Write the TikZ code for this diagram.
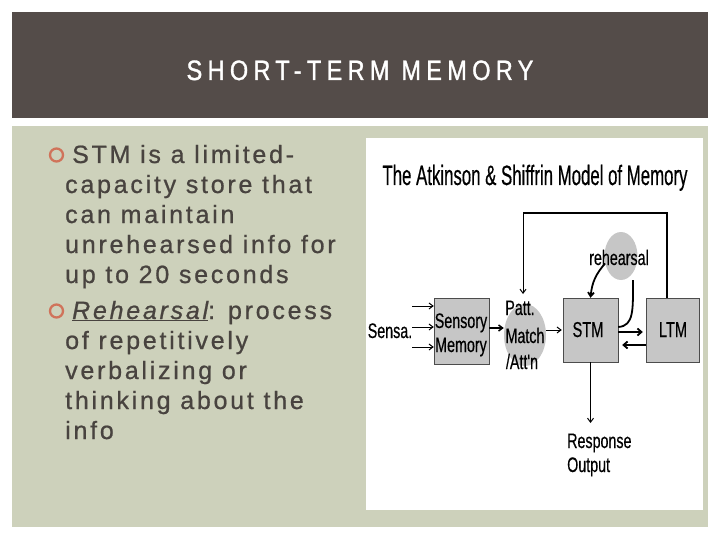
\documentclass[tikz,border=0pt]{standalone}
\usepackage{fontspec}
\setmainfont{Liberation Sans}
\newfontfamily\headf[LetterSpace=19,FakeStretch=0.84,FakeBold=1.2]{Liberation Sans}
\newfontfamily\bodyf[LetterSpace=11,FakeBold=0.8]{Liberation Sans}
\newfontfamily\dtitlef[FakeStretch=0.6,FakeBold=0.4]{Liberation Sans}
\newfontfamily\dlabf[FakeStretch=0.68,FakeBold=0.4]{Liberation Sans}
\usetikzlibrary{arrows.meta,shapes.geometric}
\definecolor{header}{HTML}{544C49}
\definecolor{panel}{HTML}{CDD1BB}
\definecolor{bodytext}{HTML}{48433F}
\definecolor{bullet}{HTML}{D0735A}
\definecolor{boxgray}{HTML}{C6C6C6}
\begin{document}
\begin{tikzpicture}[x=1pt,y=-1pt,
  body/.style={anchor=base west, inner sep=0, font=\bodyf\fontsize{25}{27}\selectfont, text=bodytext},
  bul/.style={draw=bullet, line width=2.3pt, circle, minimum size=13pt, inner sep=0},
  dlab/.style={inner sep=0, font=\dlabf\fontsize{21}{23}\selectfont, anchor=base},
  dbox/.style={fill=boxgray, draw=gray!60!black, line width=0.4pt, inner sep=0},
  gell/.style={fill=boxgray, ellipse, inner sep=0},
  arr/.style={-{Straight Barb[length=4pt,width=6pt]}, line width=1pt},
  tarr/.style={-{Straight Barb[length=4pt,width=7pt]}, line width=1.8pt}]
\useasboundingbox (0,0) rectangle (720,540);
\fill[white] (0,0) rectangle (720,540);
\fill[header] (12,12) rectangle (708,118);
\node[text=white, font=\headf\fontsize{28}{30}\selectfont, inner sep=0, anchor=base] (title) at (360,80) {SHORT-TERM MEMORY};
\fill[panel] (12,126) rectangle (708,527);
\fill[white] (366,138) rectangle (703,510);
% left text
\node[bul] (b1) at (56.5,155) {};
\node[body] (t1) at (72,163) {STM is a limited-};
\node[body] (t2) at (65,193) {capacity store that};
\node[body] (t3) at (65,223) {can maintain};
\node[body] (t4) at (65,253) {unrehearsed info for};
\node[body] (t5) at (65,283) {up to 20 seconds};
\node[bul] (b2) at (56.5,311) {};
\node[body] (u1) at (72,319) {\underline{\itshape Rehearsal}: process};
\node[body] (u2) at (65,349) {of repetitively};
\node[body] (u3) at (65,379) {verbalizing or};
\node[body] (u4) at (65,409) {thinking about the};
\node[body] (u5) at (65,439) {info};
% diagram
\node[inner sep=0, font=\dtitlef\fontsize{28}{30}\selectfont, anchor=base] (dtitle) at (535,185) {The Atkinson \& Shiffrin Model of Memory};
\node[dbox, minimum width=55pt, minimum height=66pt] (sens) at (461.5,331) {};
\node[dbox, minimum width=55pt, minimum height=64pt] (stm) at (590.5,330) {};
\node[dbox, minimum width=53pt, minimum height=64pt] (ltm) at (672.5,330) {};
\node[gell, minimum width=42pt, minimum height=62pt] (patt) at (525,335) {};
\node[gell, minimum width=33pt, minimum height=48pt] (reh) at (621,256) {};
\node[dlab] (sensa) at (390,338) {Sensa.};
\node[dlab] (senst) at (461,328) {Sensory};
\node[dlab] (memt) at (461,352) {Memory};
\node[dlab] (pattt) at (520,315) {Patt.};
\node[dlab] (matcht) at (525,343) {Match};
\node[dlab] (attt) at (522,369) {/Att'n};
\node[dlab] (reht) at (619,265) {rehearsal};
\node[dlab, font=\dlabf\fontsize{21.5}{23}\selectfont] (stmt) at (588,337) {STM};
\node[dlab, font=\dlabf\fontsize{21.5}{23}\selectfont] (ltmt) at (673,337) {LTM};
\node[dlab, anchor=base west] (resp) at (567,448) {Response};
\node[dlab, anchor=base west] (outp) at (567,472) {Output};
% connectors
\coordinate (in1) at (412,306);
\coordinate (in3) at (412,347);
\draw[arr] (in1) -- (in1 -| sens.west);
\draw[arr] (sensa.east |- 0,327) -- (sens.west |- 0,327);
\draw[arr] (in3) -- (in3 -| sens.west);
\draw[arr, line width=1.5pt] (sens.east |- 0,328) -- (patt.west |- 0,328);
\draw[arr] (patt.east |- 0,330) -- ([xshift=-1pt]stm.west |- 0,330);
\draw[tarr] (stm.east |- 0,332) -- ([xshift=-3pt]ltm.west |- 0,332);
\draw[tarr] (ltm.west |- 0,345) -- ([xshift=4pt]stm.east |- 0,345);
\coordinate (ttop) at (523,213);
\draw[line width=2pt] (ltm.north -| 667,0) -- (667,213) -- (ttop);
\draw[arr] (ttop) -- (523,294);
\draw[arr, line width=1.8pt] (reh.205) .. controls (596,274) and (592,282) .. (stm.north);
\draw[line width=1.8pt] (stm.east |- 0,327) .. controls (634,326) and (633,310) .. (reh.south -| 633,0);
\draw[arr] (stm.south) -- (590.5,423);
\end{tikzpicture}
\end{document}
